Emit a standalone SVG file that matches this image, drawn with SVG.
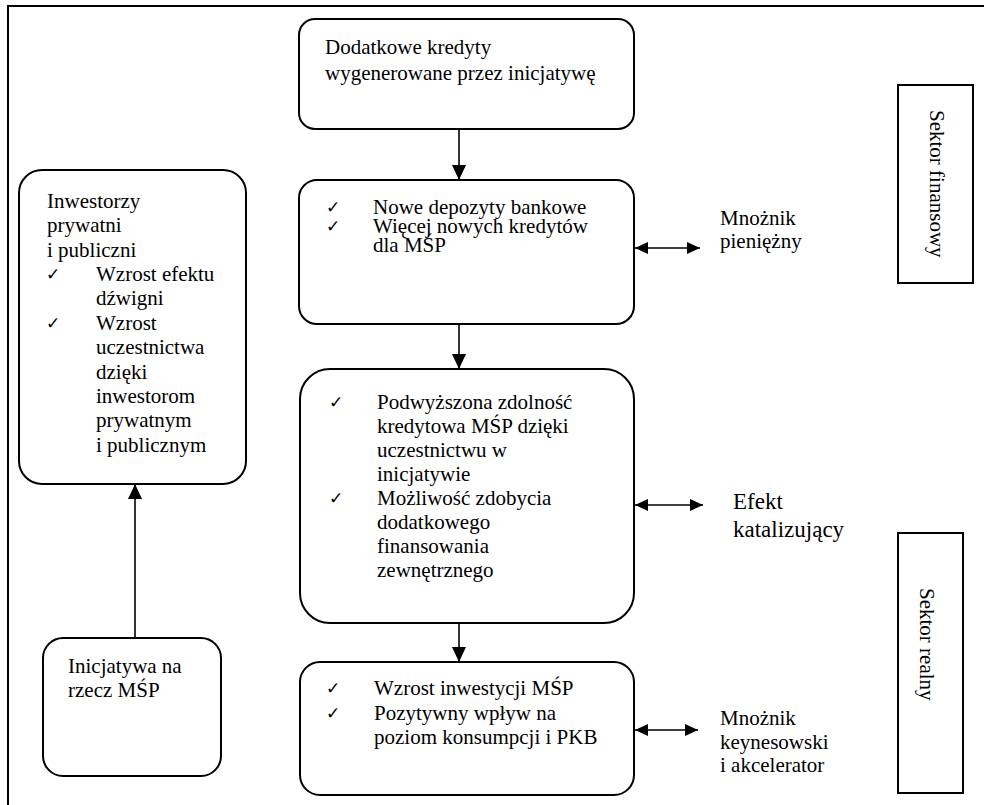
<svg xmlns="http://www.w3.org/2000/svg" width="984" height="805" viewBox="0 0 984 805">
<defs>
<style>
.box{fill:#fff;stroke:#000;stroke-width:2}
.t{font-family:'Liberation Serif','DejaVu Serif',serif;font-size:21px;fill:#000}
.tb{font-family:'Liberation Serif','DejaVu Serif',serif;font-size:23px;fill:#000}
.ck{font-family:'DejaVu Sans',sans-serif;font-size:17px;fill:#000}
.ln{stroke:#000;stroke-width:1.6;fill:none}
.frame{stroke:#000;stroke-width:2;fill:none}
</style>
<marker id="ah" viewBox="0 0 15 14" refX="15" refY="7" markerWidth="15" markerHeight="14" markerUnits="userSpaceOnUse" orient="auto-start-reverse">
<path d="M0,0 L15,7 L0,14 Z" fill="#000"/>
</marker>
<marker id="dh" viewBox="0 0 13 12" refX="13" refY="6" markerWidth="13" markerHeight="12" markerUnits="userSpaceOnUse" orient="auto-start-reverse">
<path d="M0,0 L13,6 L0,12 Z" fill="#000"/>
</marker>
</defs>
<rect width="984" height="805" fill="#fff"/>
<path class="frame" d="M8,805 L8,6 L984,6"/>

<g id="node-dodatkowe">
<rect class="box" x="299" y="19" width="335" height="110" rx="16"/>
<text class="t" x="325" y="54">Dodatkowe kredyty</text>
<text class="t" x="325" y="80">wygenerowane przez inicjatywę</text>
</g>

<g id="node-depozyty">
<rect class="box" x="299" y="180" width="335" height="144" rx="18"/>
<text class="ck" x="326" y="213">✓</text>
<text class="t" x="373" y="214">Nowe depozyty bankowe</text>
<text class="ck" x="326" y="232">✓</text>
<text class="t" x="373" y="233">Więcej nowych kredytów</text>
<text class="t" x="373" y="252">dla MŚP</text>
</g>

<g id="node-zdolnosc">
<rect class="box" x="300" y="369" width="334" height="254" rx="30"/>
<text class="ck" x="329" y="408">✓</text>
<text class="t" x="377" y="409">Podwyższona zdolność</text>
<text class="t" x="377" y="433">kredytowa MŚP dzięki</text>
<text class="t" x="377" y="457">uczestnictwu w</text>
<text class="t" x="377" y="481">inicjatywie</text>
<text class="ck" x="329" y="504">✓</text>
<text class="t" x="377" y="505">Możliwość zdobycia</text>
<text class="t" x="377" y="529">dodatkowego</text>
<text class="t" x="377" y="553">finansowania</text>
<text class="t" x="377" y="577">zewnętrznego</text>
</g>

<g id="node-inwestycje">
<rect class="box" x="300" y="662" width="334" height="133" rx="20"/>
<text class="ck" x="326" y="694">✓</text>
<text class="t" x="374" y="695">Wzrost inwestycji MŚP</text>
<text class="ck" x="326" y="719">✓</text>
<text class="t" x="374" y="720">Pozytywny wpływ na</text>
<text class="t" x="374" y="744">poziom konsumpcji i PKB</text>
</g>

<g id="node-inwestorzy">
<rect class="box" x="19" y="170" width="227" height="314" rx="23"/>
<text class="t" x="47" y="208">Inwestorzy</text>
<text class="t" x="47" y="232">prywatni</text>
<text class="t" x="47" y="257">i publiczni</text>
<text class="ck" x="46" y="280">✓</text>
<text class="t" x="96" y="281">Wzrost efektu</text>
<text class="t" x="96" y="305">dźwigni</text>
<text class="ck" x="46" y="329">✓</text>
<text class="t" x="96" y="330">Wzrost</text>
<text class="t" x="96" y="354">uczestnictwa</text>
<text class="t" x="96" y="379">dzięki</text>
<text class="t" x="96" y="403">inwestorom</text>
<text class="t" x="96" y="427">prywatnym</text>
<text class="t" x="96" y="452">i publicznym</text>
</g>

<g id="node-inicjatywa">
<rect class="box" x="43" y="638" width="178" height="138" rx="20"/>
<text class="t" x="68" y="673">Inicjatywa na</text>
<text class="t" x="68" y="697">rzecz MŚP</text>
</g>

<g id="label-mnoznik-pieniezny">
<text class="t" x="720" y="225">Mnożnik</text>
<text class="t" x="720" y="248">pieniężny</text>
</g>

<g id="label-efekt">
<text class="tb" x="733" y="509">Efekt</text>
<text class="tb" x="733" y="537">katalizujący</text>
</g>

<g id="label-mnoznik-keynes">
<text class="t" x="720" y="725">Mnożnik</text>
<text class="t" x="720" y="749">keynesowski</text>
<text class="t" x="720" y="772">i akcelerator</text>
</g>

<g id="node-sektor-finansowy">
<rect class="box" x="898" y="85" width="75" height="198"/>
<text class="t" transform="translate(930,110) rotate(90)">Sektor finansowy</text>
</g>

<g id="node-sektor-realny">
<rect class="box" x="898" y="533" width="65" height="260"/>
<text class="t" transform="translate(920,588) rotate(90)">Sektor realny</text>
</g>

<g id="connectors">
<line class="ln" x1="459" y1="129" x2="459" y2="180" marker-end="url(#ah)"/>
<line class="ln" x1="459" y1="324" x2="459" y2="369" marker-end="url(#ah)"/>
<line class="ln" x1="459" y1="623" x2="459" y2="662" marker-end="url(#ah)"/>
<line class="ln" x1="135" y1="638" x2="135" y2="484" marker-end="url(#ah)"/>
<line class="ln" x1="635" y1="248" x2="700" y2="248" stroke-width="2" marker-start="url(#dh)" marker-end="url(#dh)"/>
<line class="ln" x1="635" y1="505" x2="703" y2="505" stroke-width="2" marker-start="url(#dh)" marker-end="url(#dh)"/>
<line class="ln" x1="635" y1="730" x2="698" y2="730" stroke-width="2" marker-start="url(#dh)" marker-end="url(#dh)"/>
</g>
</svg>
